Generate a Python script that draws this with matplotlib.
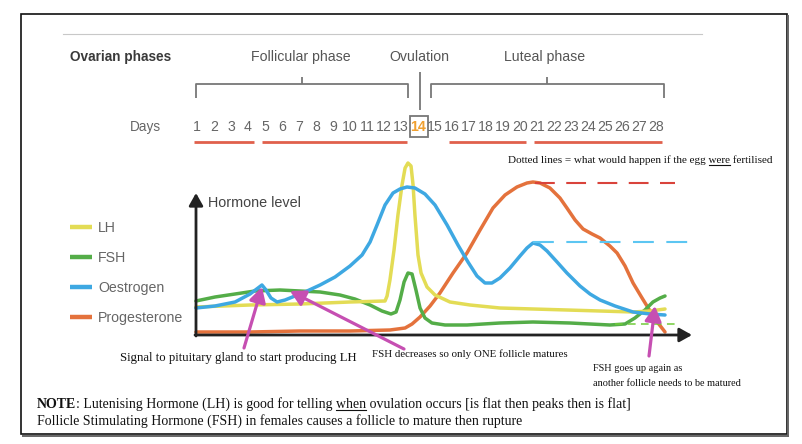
import matplotlib
matplotlib.use("Agg")
import matplotlib.pyplot as plt
from matplotlib.patches import Rectangle

# ---- data (x = cycle day, y = relative hormone level) ----
days = list(range(1, 29))
red_groups = [(1, 4), (5, 13), (16, 20), (21, 28)]

lh_x = [0.94, 4.12, 7.06, 10.0, 12.06, 12.18, 12.35, 12.59, 12.82, 13.06, 13.24, 13.41, 13.59,
        13.71, 13.82, 14.0, 14.18, 14.53, 15.0, 15.88, 17.06, 18.82, 22.76, 26.65, 27.65, 28.53]
lh_y = [26, 28, 29, 31, 32, 37, 53, 83, 118, 148, 165, 170, 167,
        148, 118, 78, 60, 46, 38, 31, 28, 25, 23, 21, 22, 24]

fsh_x = [0.94, 2.06, 3.24, 4.41, 5.88, 7.06, 8.24, 9.41, 10.29, 11.18, 11.88, 12.41, 12.71,
         12.94, 13.18, 13.41, 13.65, 13.88, 14.12, 14.41, 14.82, 15.59, 16.88, 18.82, 20.76,
         22.94, 25.29, 26.18, 26.76, 27.35, 27.82, 28.24, 28.53]
fsh_y = [32, 36, 39, 42, 43, 42, 41, 38, 34, 28, 22, 19, 21,
         33, 51, 60, 59, 43, 25, 15, 10, 8, 8, 10, 11,
         10, 8, 9, 15, 23, 31, 35, 37]

oes_x = [0.94, 2.06, 3.24, 4.12, 4.59, 4.82, 5.06, 5.35, 5.71, 6.18, 6.76, 7.35, 8.24, 9.12,
         10.0, 10.71, 11.18, 11.59, 12.06, 12.53, 12.94, 13.35, 13.82, 14.41, 15.0, 15.71,
         16.35, 16.94, 17.47, 17.94, 18.35, 18.82, 19.41, 20.0, 20.41, 20.76, 21.18, 21.59,
         22.18, 22.76, 23.53, 24.12, 24.71, 25.59, 26.65, 27.65, 28.53]
oes_y = [25, 27, 31, 39, 45, 48, 43, 35, 31, 33, 37, 41, 48, 56,
         67, 78, 91, 108, 128, 140, 144, 146, 145, 139, 128, 108,
         88, 71, 57, 50, 50, 55, 65, 77, 85, 90, 88, 82,
         71, 60, 47, 39, 33, 27, 21, 19, 18]

prog_x = [0.94, 4.12, 7.06, 10.0, 12.35, 13.24, 13.65, 14.12, 14.71, 15.29, 16.06, 16.88,
          17.65, 18.41, 19.12, 19.82, 20.41, 20.76, 21.18, 21.76, 22.35, 22.76, 23.24, 23.71,
          24.24, 24.71, 25.29, 25.71, 26.18, 26.65, 27.18, 27.65, 28.12, 28.53]
prog_y = [1, 1, 2, 2, 3, 5, 9, 16, 27, 40, 60, 80,
          103, 125, 138, 146, 150, 151, 150, 145, 135, 125, 113, 104,
          99, 95, 87, 80, 67, 50, 35, 22, 10, 1]

# "if fertilised" levels: (start day, end day, level)
prog_fert = (20.88, 29.12, 150)
oes_fert = (20.76, 30.0, 91)
fsh_fert = (25.59, 29.29, 9)

C_LH, C_FSH, C_OES, C_PROG = "#e3dc55", "#54ad48", "#3ea8e2", "#e4723c"
MAG = "#c64fb2"
SANS = ["Liberation Sans", "DejaVu Sans"]
SERIF = ["Liberation Serif", "DejaVu Serif"]


def day(px):
    return 1 + (px - 197) / 17.0


def lvl(py):
    return 333 - py


fig = plt.figure(figsize=(8.02, 4.44), dpi=100)
ax = fig.add_axes([0, 0, 1, 1])
ax.set_xlim(0, 802)
ax.set_ylim(444, 0)
ax.axis("off")

cx = fig.add_axes([150 / 802, (444 - 340) / 444, 550 / 802, 190 / 444])
cx.set_xlim(day(150), day(700))
cx.set_ylim(lvl(340), lvl(150))
cx.axis("off")
cx.patch.set_alpha(0)

# frame with a small shadow
ax.add_patch(Rectangle((21, 14), 766, 420, fill=False, ec="#111", lw=1.2))
ax.plot([788, 788], [16, 436], color="#666", lw=1.4)
ax.plot([23, 788], [436, 436], color="#666", lw=1.4)
ax.plot([63, 702], [34, 34], color="#c8c8c8", lw=0.8)

# header
ax.text(70, 57, "Ovarian phases", family=SANS, fontsize=9.8, weight="bold",
        color="#3a3a3a", va="center")
ax.text(301, 57, "Follicular phase", family=SANS, fontsize=10.2, color="#555",
        va="center", ha="center")
ax.text(419, 57, "Ovulation", family=SANS, fontsize=10.2, color="#555", va="center", ha="center")
ax.text(545, 57, "Luteal phase", family=SANS, fontsize=10.2, color="#555", va="center", ha="center")

bk = dict(color="#777", lw=1.3, clip_on=False, solid_capstyle="butt")
top, bot, tick = lvl(84), lvl(98), lvl(77)
cx.plot([day(196), day(196), day(408), day(408)], [bot, top, top, bot], **bk)
cx.plot([day(302), day(302)], [top, tick], **bk)
cx.plot([day(431), day(431), day(664), day(664)], [bot, top, top, bot], **bk)
cx.plot([day(547), day(547)], [top, tick], **bk)
cx.plot([day(420), day(420)], [lvl(72), lvl(110)], **bk)

# day row
ax.text(161, 127, "Days", family=SANS, fontsize=9.8, color="#666", va="center", ha="right")
for d in days:
    special = d == 14
    cx.text(d, lvl(127), str(d), family=SANS, fontsize=10.2, ha="center", va="center",
            color="#f0a030" if special else "#666", weight="bold" if special else "normal",
            clip_on=False)
cx.add_patch(Rectangle((day(410), lvl(137)), day(428) - day(410), lvl(116) - lvl(137),
                       fill=False, ec="#777", lw=1.3, clip_on=False))
for a, b in red_groups:
    cx.plot([a - 0.15, b + 0.35], [lvl(142), lvl(142)], color="#e0604c", lw=2.0,
            clip_on=False, solid_capstyle="butt")

# hormone curves
kw = dict(lw=2.5, solid_joinstyle="round", solid_capstyle="round", clip_on=False)
l_prog, = cx.plot(prog_x, prog_y, color=C_PROG, label="Progesterone", **kw)
l_fsh, = cx.plot(fsh_x, fsh_y, color=C_FSH, label="FSH", **kw)
l_lh, = cx.plot(lh_x, lh_y, color=C_LH, label="LH", **kw)
l_oes, = cx.plot(oes_x, oes_y, color=C_OES, label="Oestrogen", **kw)

cx.plot(prog_fert[:2], [prog_fert[2]] * 2, color="#d9433b", lw=1.5, dashes=(9.5, 5.5))
cx.plot(oes_fert[:2], [oes_fert[2]] * 2, color="#5cc6f2", lw=1.5, dashes=(10, 6))
cx.plot(fsh_fert[:2], [fsh_fert[2]] * 2, color="#72cc3a", lw=1.1, dashes=(5, 3.5))

# axes arrows
ak = dict(arrowstyle="-|>,head_length=0.75,head_width=0.42", color="#222", lw=2.0,
          mutation_scale=10, shrinkA=0, shrinkB=0)
cx.annotate("", xy=(day(692), lvl(335)), xytext=(day(195), lvl(335)), arrowprops=ak,
            annotation_clip=False)
cx.annotate("", xy=(day(196), lvl(193)), xytext=(day(196), lvl(336)), arrowprops=ak,
            annotation_clip=False)
ax.text(208, 203, "Hormone level", family=SANS, fontsize=10.4, color="#444", va="center")

# legend
leg = cx.legend([l_lh, l_fsh, l_oes, l_prog], ["LH", "FSH", "Oestrogen", "Progesterone"],
                loc="upper left", bbox_to_anchor=(70 / 802, 1 - 221 / 444),
                bbox_transform=fig.transFigure, frameon=False, borderpad=0, borderaxespad=0,
                handlelength=1.55, handletextpad=0.42, labelspacing=1.12,
                prop=dict(family=SANS, size=10.2), labelcolor="#666")
for h in leg.legend_handles:
    h.set_linewidth(3.2)
    h.set_solid_capstyle("butt")

# magenta arrows
mk = dict(arrowstyle="-|>,head_length=0.9,head_width=0.5", color=MAG, lw=2.3,
          mutation_scale=10, shrinkA=0, shrinkB=0)
for tip, tail in [((262, 287), (244, 348)), ((290, 291), (404, 349)), ((655, 306), (649, 356))]:
    cx.annotate("", xy=(day(tip[0]), lvl(tip[1])), xytext=(day(tail[0]), lvl(tail[1])),
                arrowprops=mk, annotation_clip=False)

# notes
fig.canvas.draw()
rend = fig.canvas.get_renderer()


def width(s, **kws):
    t = ax.text(0, 0, s, **kws)
    w = t.get_window_extent(rend).width
    t.remove()
    return w


def underline(x, y, before, word, **kws):
    w_all = width(before + word, **kws)
    w_word = width(word, **kws)
    ax.plot([x + w_all - w_word, x + w_all], [y + 1.6, y + 1.6], color="#111", lw=0.8)


st = dict(family=SERIF, fontsize=8, color="#111")
s1 = "Dotted lines = what would happen if the egg "
ax.text(508, 163, s1 + "were fertilised", va="baseline", **st)
underline(508, 163, s1, "were", **st)

ax.text(120, 361, "Signal to pituitary gland to start producing LH", family=SERIF,
        fontsize=9.2, color="#111", va="baseline")
ax.text(372, 357, "FSH decreases so only ONE follicle matures", family=SERIF,
        fontsize=7.8, color="#111", va="baseline")
ax.text(593, 371, "FSH goes up again as", family=SERIF, fontsize=7.4, color="#111", va="baseline")
ax.text(593, 386, "another follicle needs to be matured", family=SERIF, fontsize=7.4,
        color="#111", va="baseline")

nt = dict(family=SERIF, fontsize=10, color="#111")
t1 = ax.text(37, 408, "NOTE", va="baseline", weight="bold", **nt)
rest = ": Lutenising Hormone (LH) is good for telling when ovulation occurs [is flat then peaks then is flat]"
ax.annotate(rest, xy=(1, 0), xycoords=t1, va="bottom", **nt)
w_note = t1.get_window_extent(rend).width
underline(37 + w_note, 408, ": Lutenising Hormone (LH) is good for telling ", "when", **nt)
ax.text(37, 425, "Follicle Stimulating Hormone (FSH) in females causes a follicle to mature then rupture",
        va="baseline", **nt)

fig.savefig("out.png", dpi=100)
